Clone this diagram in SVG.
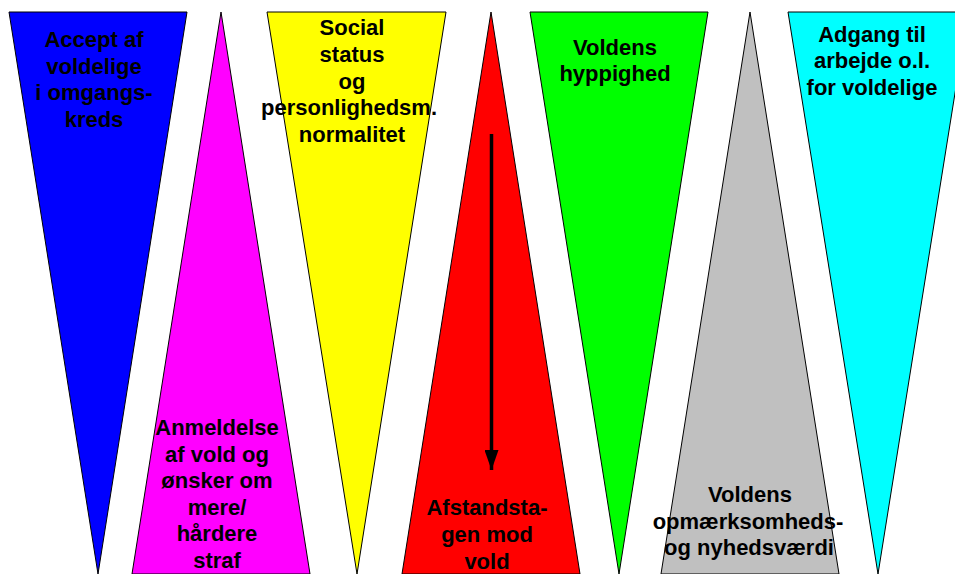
<svg xmlns="http://www.w3.org/2000/svg" width="955" height="574" viewBox="0 0 955 574">
<defs>
<style>
.tri{stroke:#000;stroke-width:1}
.lbl{font-family:"Liberation Sans",Arial,sans-serif;font-weight:bold;font-size:22px;fill:#000;text-anchor:middle}
</style>
<marker id="ah" viewBox="0 0 20 14" refX="20" refY="7" markerWidth="20" markerHeight="14" orient="auto" markerUnits="userSpaceOnUse">
<path d="M0,0 L20,7 L0,14 z" fill="#000"/>
</marker>
</defs>
<rect width="955" height="574" fill="#fff"/>
<g id="node-accept">
<polygon class="tri" points="9,12 187,12 98,574" fill="#0000ff"/>
<text class="lbl"><tspan x="94" y="47">Accept af</tspan><tspan x="94" y="73.5">voldelige</tspan><tspan x="94" y="100">i omgangs-</tspan><tspan x="94" y="126.5">kreds</tspan></text>
</g>
<g id="node-anmeldelse">
<polygon class="tri" points="221,12 310,574 132,574" fill="#ff00ff"/>
<text class="lbl"><tspan x="217" y="435">Anmeldelse</tspan><tspan x="217" y="461.6">af vold og</tspan><tspan x="217" y="488.2">ønsker om</tspan><tspan x="217" y="514.8">mere/</tspan><tspan x="217" y="541.4">hårdere</tspan><tspan x="217" y="568">straf</tspan></text>
</g>
<g id="node-social">
<polygon class="tri" points="267,12 446,12 357,574" fill="#ffff00"/>
<text class="lbl"><tspan x="352" y="35">Social</tspan><tspan x="352" y="61.8">status</tspan><tspan x="352" y="88.6">og</tspan><tspan x="349" y="115.4">personlighedsm.</tspan><tspan x="352" y="142.2">normalitet</tspan></text>
</g>
<g id="node-afstand">
<polygon class="tri" points="491,12 580,574 402,574" fill="#ff0000"/>
<text class="lbl"><tspan x="487" y="515">Afstandsta-</tspan><tspan x="487" y="542">gen mod</tspan><tspan x="487" y="569">vold</tspan></text>
</g>
<g id="node-hyppighed">
<polygon class="tri" points="530,12 708,12 619,574" fill="#00ff00"/>
<text class="lbl"><tspan x="615" y="54.5">Voldens</tspan><tspan x="615" y="81">hyppighed</tspan></text>
</g>
<g id="node-opmaerksomhed">
<polygon class="tri" points="750,12 839,574 661,574" fill="#c0c0c0"/>
<text class="lbl"><tspan x="750" y="502">Voldens</tspan><tspan x="748" y="528.5">opmærksomheds-</tspan><tspan x="749" y="555">og nyhedsværdi</tspan></text>
</g>
<g id="node-adgang">
<polygon class="tri" points="788,12 968,12 878,574" fill="#00ffff"/>
<text class="lbl"><tspan x="872" y="41.5">Adgang til</tspan><tspan x="872" y="68.2">arbejde o.l.</tspan><tspan x="872" y="95">for voldelige</tspan></text>
</g>
<g id="connectors">
<line x1="491.5" y1="134" x2="491.5" y2="470" stroke="#000" stroke-width="3.5" marker-end="url(#ah)"/>
</g>
</svg>
